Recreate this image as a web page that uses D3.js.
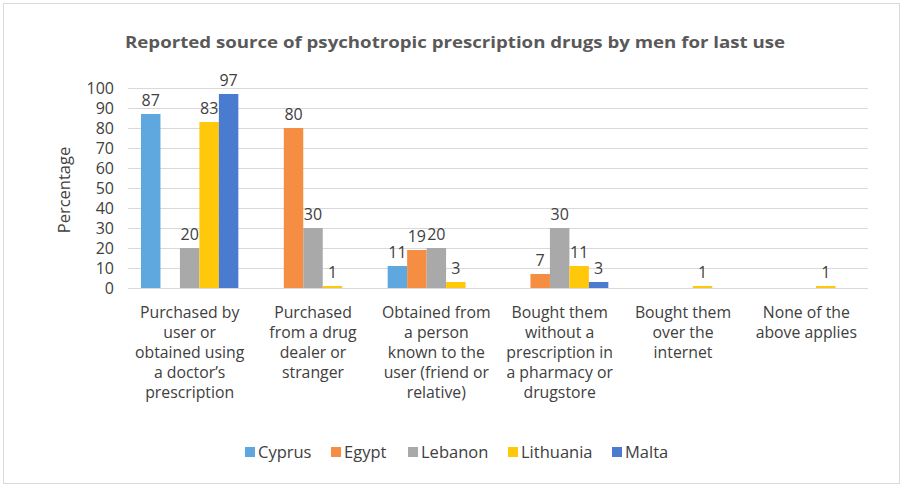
<!DOCTYPE html>
<html><head><meta charset="utf-8">
<script src="https://cdn.jsdelivr.net/npm/d3@7"></script>
<style>body{margin:0;background:#fff}svg{display:block}text{font-family:"Open Sans",sans-serif}</style>
</head><body><svg id="c" width="903" height="487"></svg>
<script>
const categories = [
  ["Purchased by","user or","obtained using","a doctor’s","prescription"],
  ["Purchased","from a drug","dealer or","stranger"],
  ["Obtained from","a person","known to the","user (friend or","relative)"],
  ["Bought them","without a","prescription in","a pharmacy or","drugstore"],
  ["Bought them","over the","internet"],
  ["None of the","above applies"]
];
const seriesNames = ["Cyprus","Egypt","Lebanon","Lithuania","Malta"];
const seriesColors = ["#5fa8df","#f58e43","#a9a9a9","#ffc80a","#4a7bd1"];
const cyprus    = [87, 0, 11, 0, 0, 0];
const egypt     = [0, 80, 19, 7, 0, 0];
const lebanon   = [20, 30, 20, 30, 0, 0];
const lithuania = [83, 1, 3, 11, 1, 1];
const malta     = [97, 0, 0, 3, 0, 0];
const yTicks = [0,10,20,30,40,50,60,70,80,90,100];
const values = [cyprus, egypt, lebanon, lithuania, malta];

const svg = d3.select("#c");
svg.append("rect").attr("x",3.5).attr("y",3.5).attr("width",896).attr("height",480)
  .attr("fill","#fff").attr("stroke","#d9d9d9");

svg.append("text").attr("x",455).attr("y",48).attr("text-anchor","middle")
  .attr("font-size",16.5).attr("font-weight","bold").attr("fill","#595959")
  .attr("textLength",660).attr("lengthAdjust","spacingAndGlyphs")
  .text("Reported source of psychotropic prescription drugs by men for last use");

const x0 = d3.scaleBand().domain(d3.range(categories.length)).range([128,868]).paddingInner(0).paddingOuter(0);
const x1 = d3.scaleBand().domain(seriesNames).range([13, x0.bandwidth()-13]).padding(0);
const y = d3.scaleLinear().domain([0,100]).range([288,88]);

const g = svg.append("g");
g.selectAll("line.grid").data(yTicks).join("line")
  .attr("x1",128).attr("x2",868).attr("y1",d=>y(d)+0.5).attr("y2",d=>y(d)+0.5)
  .attr("stroke","#d9d9d9").attr("stroke-width",1.2);

const yAxis = d3.axisLeft(y).tickValues(yTicks).tickSize(0).tickPadding(14);
const ya = svg.append("g").attr("transform","translate(128,0)").call(yAxis);
ya.select(".domain").remove();
ya.selectAll("text").attr("font-size",16).attr("fill","#404040").attr("font-family","Open Sans, sans-serif");

svg.append("text").attr("transform","translate(70,190) rotate(-90)").attr("text-anchor","middle")
  .attr("font-size",16.5).attr("fill","#404040").text("Percentage");

seriesNames.forEach((s,si)=>{
  const gs = g.append("g");
  const data = values[si].map((v,i)=>({v,i})).filter(d=>d.v>0);
  gs.selectAll("rect").data(data).join("rect")
    .attr("x",d=>x0(d.i)+x1(s)).attr("width",x1.bandwidth())
    .attr("y",d=>y(d.v)).attr("height",d=>y(0)-y(d.v))
    .attr("fill",seriesColors[si]);
  gs.selectAll("text").data(data).join("text")
    .attr("x",d=>x0(d.i)+x1(s)+x1.bandwidth()/2).attr("y",d=>y(d.v)-8)
    .attr("text-anchor","middle").attr("font-size",16).attr("fill","#404040")
    .text(d=>d.v);
});

const xl = svg.append("g");
categories.forEach((lines,i)=>{
  const t = xl.append("text").attr("x",x0(i)+x0.bandwidth()/2).attr("y",318)
    .attr("text-anchor","middle").attr("font-size",15.8).attr("fill","#404040");
  lines.forEach((l,j)=>t.append("tspan").attr("x",x0(i)+x0.bandwidth()/2).attr("dy",j===0?0:20).text(l));
});

const leg = svg.append("g");
const legX = [245, 331, 408, 508, 612];
seriesNames.forEach((s,i)=>{
  leg.append("rect").attr("x",legX[i]).attr("y",447).attr("width",10).attr("height",10).attr("fill",seriesColors[i]);
  leg.append("text").attr("x",legX[i]+13).attr("y",458).attr("font-size",16.5).attr("fill","#404040").text(s);
});
</script></body></html>
